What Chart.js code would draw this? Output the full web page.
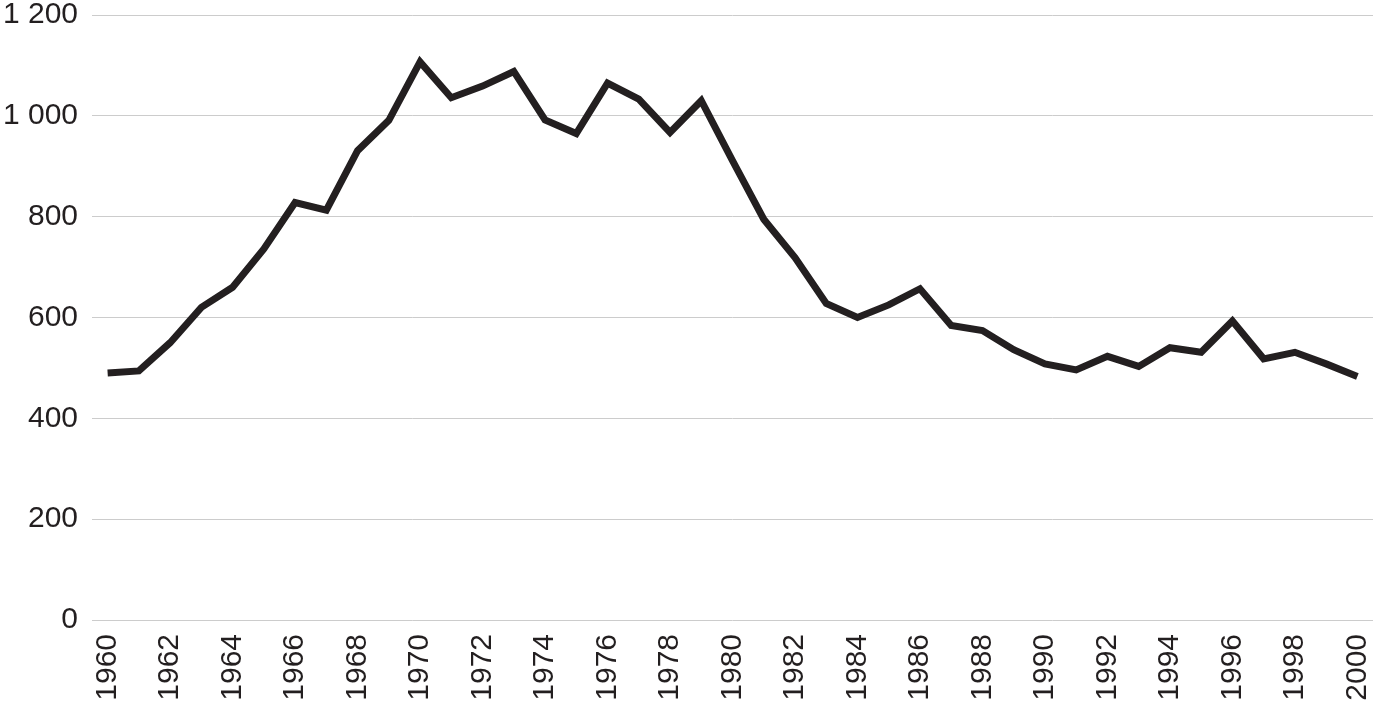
<!DOCTYPE html>
<html>
<head>
<meta charset="utf-8">
<script src="https://cdn.jsdelivr.net/npm/chart.js@4"></script>
<style>
  html, body { margin: 0; padding: 0; background: #fff; }
  #wrap { width: 1377px; height: 706px; }
</style>
</head>
<body>
<div id="wrap"><canvas id="myChart" width="1377" height="706"></canvas></div>
<script>
// years 1960..2000
var years = ['1960','1961','1962','1963','1964','1965','1966','1967','1968','1969',
             '1970','1971','1972','1973','1974','1975','1976','1977','1978','1979',
             '1980','1981','1982','1983','1984','1985','1986','1987','1988','1989',
             '1990','1991','1992','1993','1994','1995','1996','1997','1998','1999','2000'];
var values = [490, 494, 550, 620, 660, 736, 828, 813, 931, 991,
              1107, 1036, 1059, 1088, 992, 965, 1065, 1033, 967, 1030,
              911, 795, 719, 628, 600, 625, 657, 584, 574, 536,
              508, 496, 523, 503, 540, 531, 593, 518, 531, 508, 483];
var yTicks = [0, 200, 400, 600, 800, 1000, 1200];

var ink = '#231f20';
var fontFam = '"Liberation Sans", Arial, Helvetica, sans-serif';

window.onload = function () {
    const ctx = document.getElementById('myChart').getContext('2d');
    const myChart = new Chart(ctx, {
        type: 'line',
        data: {
            labels: years,
            datasets: [{
                data: values,
                borderColor: ink,
                borderWidth: 7,
                pointRadius: 0,
                tension: 0,
                fill: false
            }]
        },
        options: {
            responsive: false,
            animation: false,
            layout: { padding: { top: 15, right: 4, left: 0, bottom: 0 } },
            plugins: {
                legend: { display: false },
                tooltip: { enabled: false }
            },
            scales: {
                x: {
                    offset: true,
                    grid: { display: false },
                    border: { display: false },
                    ticks: {
                        autoSkip: false,
                        maxRotation: 90,
                        minRotation: 90,
                        padding: 6,
                        color: ink,
                        font: { family: fontFam, size: 30, lineHeight: 1 },
                        callback: function (val, i) {
                            return i % 2 === 0 ? years[i] : '';
                        }
                    },
                    afterFit: function (scale) {
                        scale.height = 86;
                        scale.paddingLeft = 0;
                        scale.paddingRight = 0;
                        scale.paddingTop = 0;
                        scale.paddingBottom = 0;
                    }
                },
                y: {
                    min: 0,
                    max: 1200,
                    afterBuildTicks: function (scale) {
                        scale.ticks = yTicks.map(function (v) { return { value: v }; });
                    },
                    grid: {
                        color: '#cccccc',
                        lineWidth: 1,
                        borderDash: [2, 1],
                        drawTicks: false
                    },
                    border: { display: false },
                    ticks: {
                        padding: 14,
                        color: ink,
                        font: { family: fontFam, size: 30, lineHeight: 1 },
                        callback: function (v) {
                            var s = String(v);
                            return v >= 1000 ? s.slice(0, s.length - 3) + ' ' + s.slice(-3) : s;
                        }
                    },
                    afterFit: function (scale) {
                        scale.width = 92;
                        scale.paddingLeft = 0;
                        scale.paddingRight = 0;
                        scale.paddingTop = 0;
                        scale.paddingBottom = 0;
                    }
                }
            }
        }
    });
};
</script>
</body>
</html>
